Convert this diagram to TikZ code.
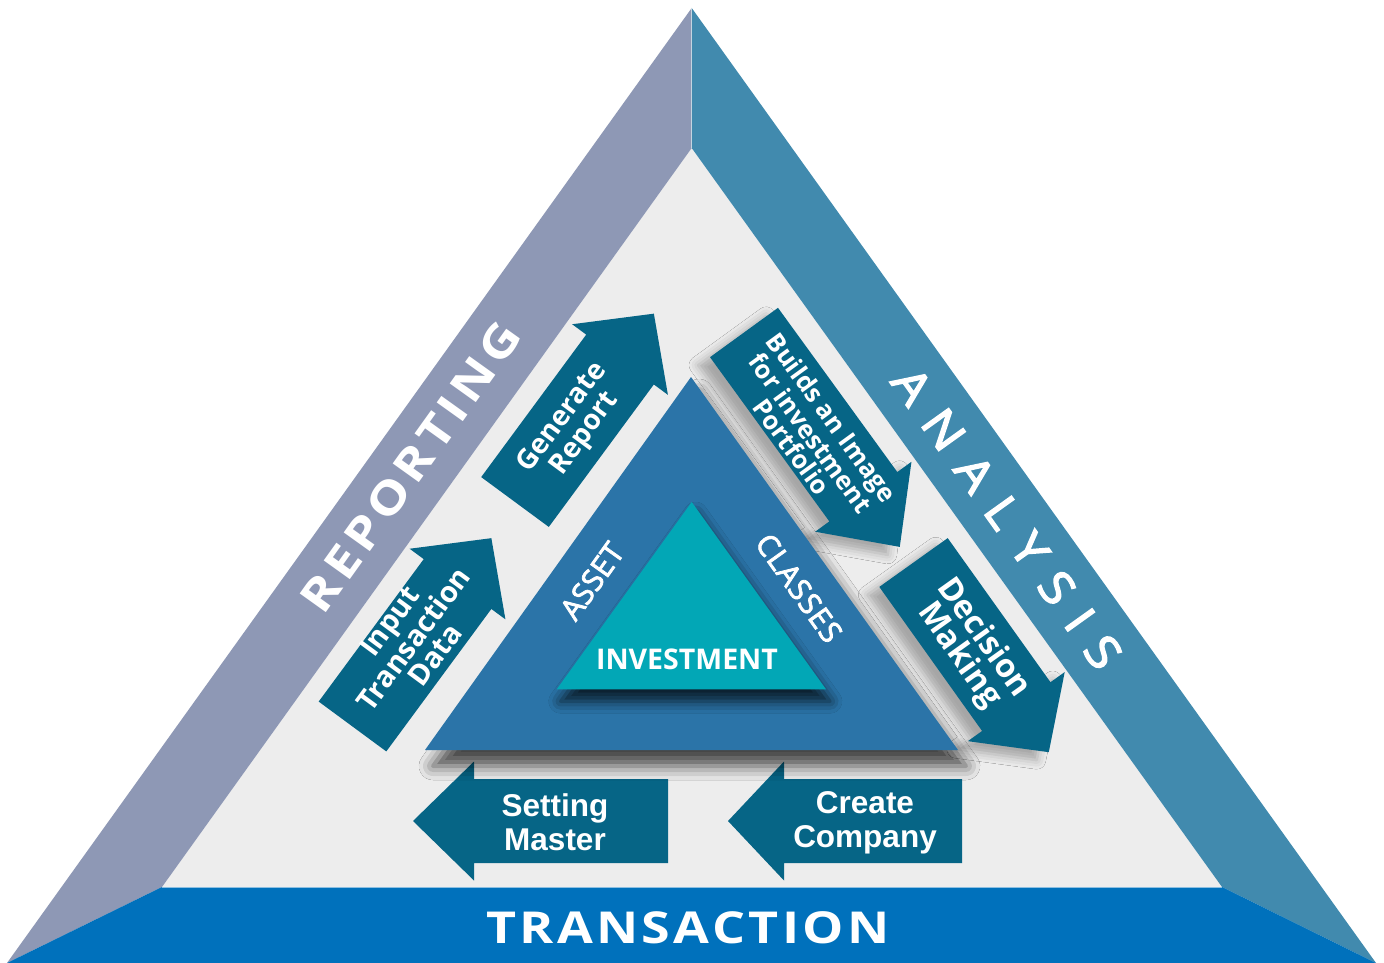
\documentclass[tikz,border=0pt]{standalone}
\usepackage{fontspec}
\setmainfont{Open Sans}
\newfontfamily\arialfont{Liberation Sans}
\newfontfamily\bandfont{Open Sans}[FakeStretch=1.18]
\newfontfamily\anafont{Open Sans}[FakeStretch=1.12, FakeBold=3]
\newfontfamily\semifont{Open Sans}[FakeBold=2.5]
\usetikzlibrary{shadows.blur}

\definecolor{leftband}{HTML}{8E98B5}
\definecolor{rightband}{HTML}{418AAE}
\definecolor{botband}{HTML}{0071BC}
\definecolor{bggray}{HTML}{EDEDED}
\definecolor{arrowcol}{HTML}{066586}
\definecolor{midtri}{HTML}{2B74A8}
\definecolor{intri}{HTML}{02A7B6}

\newcommand{\flowarrow}[6]{%
  \begin{scope}[shift={(#2,#3)},rotate=#4]
    \fill[arrowcol,#1] (0,-42) -- ({#5-#6},-42) -- ({#5-#6},-59.5) -- (#5,0)
      -- ({#5-#6},59.5) -- ({#5-#6},42) -- (0,42) -- cycle;
  \end{scope}}

\tikzset{
  arrowtext/.style={text=white, align=center, inner sep=0pt, font=\bfseries},
  bandtext/.style={text=white, inner sep=0pt},
  midshadow/.style={blur shadow={shadow xshift=8pt, shadow yshift=-16pt, shadow blur radius=14pt, shadow opacity=70}},
  innershadow/.style={blur shadow={shadow xshift=4pt, shadow yshift=-12pt, shadow blur radius=12pt, shadow opacity=75}},
  arrshadow/.style={blur shadow={shadow xshift=-12pt, shadow yshift=-8pt, shadow blur radius=9pt, shadow opacity=30}}
}

\begin{document}
\begin{tikzpicture}[x=1pt,y=-1pt]
\useasboundingbox (0,0) rectangle (1384,963);
\fill[white] (0,0) rectangle (1384,963);

\coordinate (apex) at (691.7,8);
\coordinate (iapex) at (691.7,148);
\coordinate (obl) at (7,963);
\coordinate (ibl) at (162,887);
\coordinate (obr) at (1376,963);
\coordinate (ibr) at (1222,887);

\fill[bggray] (iapex) -- (ibl) -- (ibr) -- cycle;
\fill[leftband] (apex) -- (iapex) -- (ibl) -- (obl) -- cycle;
\fill[rightband] (apex) -- (obr) -- (ibr) -- (iapex) -- cycle;
\fill[botband] (obl) -- (ibl) -- (ibr) -- (obr) -- cycle;
\draw[white!55!botband, line width=0.8pt] (ibl) -- (ibr);
\draw[white, opacity=0.5, line width=0.6pt] (apex) -- (iapex);

% band labels
\node[bandtext, rotate=54.4, font=\bandfont\bfseries\fontsize{45}{45}\selectfont] (rep) at (411,467)
  {\makebox[344pt][s]{R\hfill E\hfill P\hfill O\hfill R\hfill T\hfill I\hfill N\hfill G}};
\node[bandtext, rotate=-54.4, font=\anafont\fontsize{46}{46}\selectfont] (ana) at (1007,518)
  {\makebox[358pt][s]{A\hfill N\hfill A\hfill L\hfill Y\hfill S\hfill I\hfill S}};
\node[bandtext, font=\bandfont\bfseries\fontsize{44}{44}\selectfont] (tra) at (688,927.5)
  {\makebox[403pt][s]{T\hfill R\hfill A\hfill N\hfill S\hfill A\hfill C\hfill T\hfill I\hfill O\hfill N}};

% arrows
\flowarrow{}{352.5}{726.5}{53.6}{234}{57}
\flowarrow{}{515}{502}{53.6}{234}{57}
\flowarrow{arrshadow}{744}{332.5}{-54}{265}{62}
\flowarrow{arrshadow}{913.5}{562.5}{-54.5}{233}{56}
\flowarrow{}{668}{821}{180}{255}{61}
\flowarrow{}{962}{821}{180}{234}{56}

% middle triangle
\coordinate (ma) at (691,377);
\coordinate (mbl) at (425,750);
\coordinate (mbr) at (958,750);
\fill[midtri, midshadow] (ma) -- (mbl) -- (mbr) -- cycle;

% inner triangle
\coordinate (ia) at (691.7,502);
\coordinate (ibl2) at (556.7,689.3);
\coordinate (ibr2) at (826,689.3);
\fill[intri, innershadow] (ia) -- (ibl2) -- (ibr2) -- cycle;

\node[bandtext, rotate=54.5, font=\semifont\fontsize{30}{30}\selectfont] (asset) at (592,581)
  {\makebox[86pt][s]{A\hfill S\hfill S\hfill E\hfill T}};
\node[bandtext, rotate=-54.5, font=\semifont\fontsize{30}{30}\selectfont] (classes) at (799,588)
  {\makebox[125pt][s]{C\hfill L\hfill A\hfill S\hfill S\hfill E\hfill S}};
\node[bandtext, font=\bfseries\fontsize{28.5}{28.5}\selectfont] (inv) at (687,659) {INVESTMENT};

% arrow texts
\node[arrowtext, rotate=53.6, font=\bfseries\fontsize{29}{26.5}\selectfont] (tinput) at (412,638)
  {Input\\Transaction\\Data};
\node[arrowtext, rotate=53.6, font=\bfseries\fontsize{28}{27.5}\selectfont] (tgen) at (574,426)
  {Generate\\Report};
\node[arrowtext, rotate=-54, font=\bfseries\fontsize{25.5}{23}\selectfont] (tbuild) at (812,432)
  {Builds an Image\\for investment\\Portfolio};
\node[arrowtext, rotate=-54.5, font=\bfseries\fontsize{32.5}{30}\selectfont] (tdec) at (971,647)
  {Decision\\Making};
\node[arrowtext, font=\arialfont\bfseries\fontsize{31.5}{34}\selectfont] (tset) at (555,822)
  {Setting\\Master};
\node[arrowtext, font=\arialfont\bfseries\fontsize{31.5}{34}\selectfont] (tcre) at (865,823)
  {Create\\Company};
\end{tikzpicture}
\end{document}
